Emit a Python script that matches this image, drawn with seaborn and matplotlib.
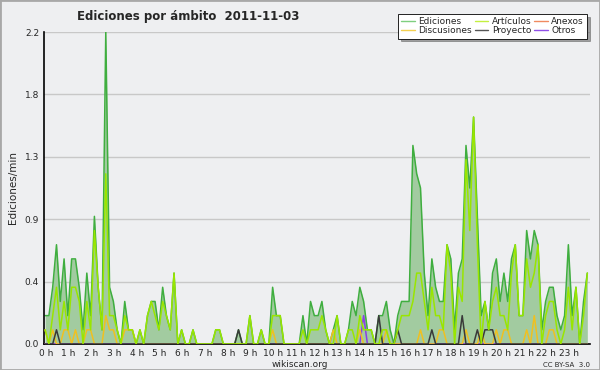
import matplotlib
matplotlib.use("Agg")
import matplotlib.pyplot as plt
import matplotlib.patches as patches
import numpy as np
import pandas as pd
import seaborn as sns


# ---------------------------------------------------------
# Data (edits per minute, 10 minute bins, 2011-11-03)
# ---------------------------------------------------------

ediciones = [
    0.2, 0.2, 0.4, 0.7, 0.3, 0.6, 0.2, 0.6, 0.6, 0.4, 0.1, 0.5,
    0.2, 0.9, 0.4, 0.1, 2.2, 0.4, 0.3, 0.1, 0.0, 0.3, 0.1, 0.1,
    0.0, 0.1, 0.0, 0.2, 0.3, 0.3, 0.1, 0.4, 0.2, 0.1, 0.5, 0.0,
    0.1, 0.0, 0.0, 0.1, 0.0, 0.0, 0.0, 0.0, 0.0, 0.1, 0.1, 0.0,
    0.0, 0.0, 0.0, 0.1, 0.0, 0.0, 0.2, 0.0, 0.0, 0.1, 0.0, 0.0,
    0.4, 0.2, 0.2, 0.0, 0.0, 0.0, 0.0, 0.0, 0.2, 0.0, 0.3, 0.2,
    0.2, 0.3, 0.1, 0.0, 0.1, 0.2, 0.0, 0.0, 0.1, 0.3, 0.2, 0.4,
    0.3, 0.1, 0.1, 0.0, 0.2, 0.2, 0.3, 0.1, 0.0, 0.2, 0.3, 0.3,
    0.3, 1.4, 1.2, 1.1, 0.5, 0.2, 0.6, 0.4, 0.3, 0.3, 0.7, 0.6,
    0.1, 0.5, 0.6, 1.4, 1.1, 1.6, 0.9, 0.2, 0.3, 0.1, 0.5, 0.6,
    0.3, 0.5, 0.3, 0.6, 0.7, 0.2, 0.2, 0.8, 0.6, 0.8, 0.7, 0.1,
    0.3, 0.4, 0.4, 0.2, 0.1, 0.2, 0.7, 0.2, 0.4, 0.0, 0.3, 0.5,
]

articulos = [
    0.1, 0.0, 0.2, 0.4, 0.1, 0.3, 0.1, 0.4, 0.4, 0.3, 0.0, 0.3,
    0.1, 0.8, 0.4, 0.1, 1.2, 0.2, 0.2, 0.1, 0.0, 0.2, 0.1, 0.1,
    0.0, 0.1, 0.0, 0.2, 0.3, 0.2, 0.1, 0.3, 0.2, 0.1, 0.5, 0.0,
    0.1, 0.0, 0.0, 0.1, 0.0, 0.0, 0.0, 0.0, 0.0, 0.1, 0.1, 0.0,
    0.0, 0.0, 0.0, 0.0, 0.0, 0.0, 0.2, 0.0, 0.0, 0.1, 0.0, 0.0,
    0.2, 0.2, 0.2, 0.0, 0.0, 0.0, 0.0, 0.0, 0.1, 0.0, 0.1, 0.1,
    0.1, 0.2, 0.1, 0.0, 0.0, 0.2, 0.0, 0.0, 0.1, 0.1, 0.0, 0.2,
    0.1, 0.1, 0.1, 0.0, 0.0, 0.1, 0.1, 0.0, 0.0, 0.1, 0.2, 0.2,
    0.2, 0.3, 0.5, 0.5, 0.3, 0.1, 0.4, 0.2, 0.2, 0.1, 0.7, 0.5,
    0.0, 0.4, 0.3, 1.3, 0.8, 1.6, 0.7, 0.0, 0.3, 0.1, 0.3, 0.4,
    0.2, 0.2, 0.1, 0.5, 0.7, 0.2, 0.2, 0.6, 0.4, 0.5, 0.7, 0.0,
    0.2, 0.3, 0.3, 0.1, 0.0, 0.1, 0.4, 0.1, 0.4, 0.0, 0.2, 0.5,
]

discusiones = [0.0] * 144
for i, v in {0: 0.1, 2: 0.1, 5: 0.1, 6: 0.1, 8: 0.1, 11: 0.1, 12: 0.1,
             16: 0.2, 17: 0.1, 18: 0.1, 21: 0.1, 22: 0.1, 23: 0.1,
             60: 0.1, 76: 0.1, 83: 0.1, 90: 0.1, 99: 0.1, 104: 0.1,
             105: 0.1, 111: 0.1, 115: 0.1, 119: 0.1, 121: 0.1, 122: 0.1,
             127: 0.1, 129: 0.2, 133: 0.1, 134: 0.1}.items():
    discusiones[i] = v

proyecto = [0.0] * 144
for i, v in {3: 0.1, 51: 0.1, 88: 0.2, 93: 0.1, 102: 0.1, 110: 0.2,
             114: 0.1, 116: 0.1, 117: 0.1, 118: 0.1}.items():
    proyecto[i] = v

otros = [0.0] * 144
otros[84] = 0.2

anexos = [0.0] * 144

hour_labels = [f"{h} h" for h in range(24)]
y_ticks = [0.0, 0.44, 0.88, 1.32, 1.76, 2.2]
y_labels = ["0.0", "0.4", "0.9", "1.3", "1.8", "2.2"]


# ---------------------------------------------------------
# Build table
# ---------------------------------------------------------

df = pd.DataFrame({
    "hora": np.arange(144) / 6 + 0.05,
    "Ediciones": ediciones,
    "Artículos": articulos,
    "Anexos": anexos,
    "Discusiones": discusiones,
    "Proyecto": proyecto,
    "Otros": otros,
})

colors = {
    "Ediciones": "#3fae3f",
    "Artículos": "#99e600",
    "Anexos": "#f07a4a",
    "Discusiones": "#f0c020",
    "Proyecto": "#3a3a3a",
    "Otros": "#8a3ee8",
}
legend_colors = {
    "Ediciones": "#7fcf7f",
    "Artículos": "#c4f040",
    "Anexos": "#f08a60",
    "Discusiones": "#f4d050",
    "Proyecto": "#555555",
    "Otros": "#9050e8",
}


# ---------------------------------------------------------
# Plot
# ---------------------------------------------------------

sns.set_style("white")
plt.rcParams["font.family"] = ["DejaVu Sans"]

bg = "#eeeff1"
fig = plt.figure(figsize=(6, 3.7), dpi=100, facecolor=bg)
ax = fig.add_axes([0.0733, 0.0703, 0.9100, 0.8432])
ax.set_facecolor(bg)

ax.fill_between(df["hora"], df["Ediciones"], 0, color="#a2cba0", lw=0, zorder=1)

for name in ["Ediciones", "Anexos", "Otros", "Discusiones", "Proyecto", "Artículos"]:
    sns.lineplot(data=df, x="hora", y=name, ax=ax, color=colors[name],
                 linewidth=1.1, zorder=3 if name != "Ediciones" else 2,
                 legend=False)

ax.set_xlim(0, 24)
ax.set_ylim(0, 2.2)

ax.set_yticks(y_ticks)
ax.set_yticklabels(y_labels)
ax.set_yticks(np.arange(0, 2.2, 0.11), minor=True)
ax.set_xticks(np.arange(24) + 0.08)
ax.set_xticklabels(hour_labels)
ax.set_xticks(np.arange(0, 24.01, 1 / 6), minor=True)

ax.tick_params(axis="both", which="major", direction="out", length=3,
               width=0.9, color="black", labelsize=6.5, pad=0.5)
ax.tick_params(axis="both", which="minor", direction="out", length=3,
               width=0.9, color="black")
ax.grid(axis="y", which="major", color="#c8c8c8", linewidth=1)
ax.set_axisbelow(True)

for side in ["top", "right"]:
    ax.spines[side].set_visible(False)
for side in ["left", "bottom"]:
    ax.spines[side].set_color("black")
    ax.spines[side].set_linewidth(1.2)

ax.set_xlabel("")
ax.set_ylabel("Ediciones/min", fontsize=7.5, labelpad=5)

fig.text(0.313, 0.955, "Ediciones por ámbito  2011-11-03",
         ha="center", va="center", fontsize=8.5, fontweight="bold")
fig.text(0.50, 0.014, "wikiscan.org", ha="center", va="center", fontsize=6.5)
fig.text(0.983, 0.014, "CC BY-SA  3.0", ha="right", va="center", fontsize=5)

names = ["Ediciones", "Discusiones", "Artículos", "Proyecto", "Anexos", "Otros"]
handles = [plt.Line2D([], [], color=legend_colors[n], lw=1) for n in names]
leg = fig.legend(handles, names,
                 ncol=3, loc="upper right", bbox_to_anchor=(0.986, 0.975),
                 fontsize=6.5, frameon=True, fancybox=False, shadow=True,
                 handlelength=1.5, handletextpad=0.4, columnspacing=0.3,
                 labelspacing=0.05, borderpad=0.35)
leg.get_frame().set_edgecolor("black")
leg.get_frame().set_linewidth(0.6)

fig.patches.append(patches.Rectangle((0, 0), 1, 1, transform=fig.transFigure,
                                     fill=False, edgecolor="#a8a8a8", lw=2))

fig.savefig("out.png", dpi=100, facecolor=bg)
